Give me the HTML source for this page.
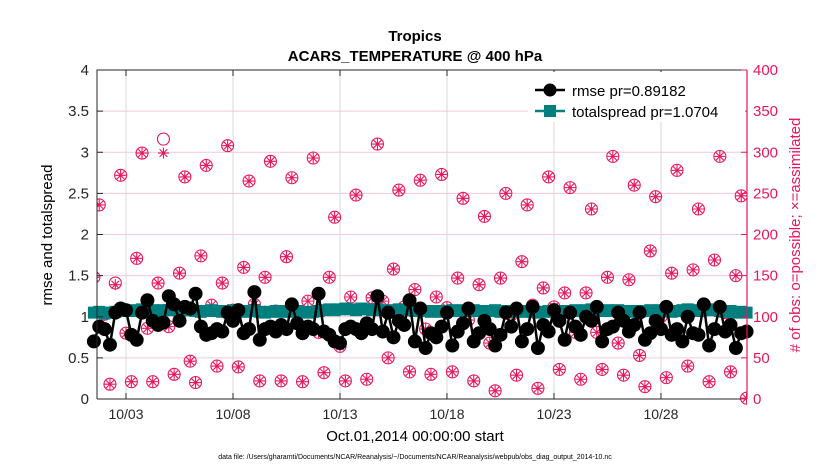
<!DOCTYPE html>
<html><head><meta charset="utf-8"><style>
body{margin:0;background:#fff;}
svg{display:block;font-family:"Liberation Sans",Arial,sans-serif;}
</style></head><body>
<svg id="chart" width="830" height="470" viewBox="0 0 830 470">
<text x="415" y="41" text-anchor="middle" font-size="15" font-weight="bold">Tropics</text>
<text x="415" y="61" text-anchor="middle" font-size="15" font-weight="bold">ACARS_TEMPERATURE @ 400 hPa</text>
<g id="grid"></g>
<g id="marks"></g>
<g id="axes"></g>
<text transform="translate(52,235) rotate(-90)" text-anchor="middle" font-size="15">rmse and totalspread</text>
<text transform="translate(800,235) rotate(-90)" text-anchor="middle" font-size="15" fill="#e8175d"># of obs: o=possible; ×=assimilated</text>
<text x="415" y="441" text-anchor="middle" font-size="15">Oct.01,2014 00:00:00 start</text>
<text x="415" y="459" text-anchor="middle" font-size="7">data file: /Users/gharamti/Documents/NCAR/Reanalysis/~/Documents/NCAR/Reanalysis/webpub/obs_diag_output_2014-10.nc</text>
<g id="legend">
<rect x="528" y="72" width="217" height="50" fill="#fff"/>
<g>
<line x1="535" y1="90" x2="565" y2="90" stroke="#000" stroke-width="2.5"/>
<circle cx="550" cy="90" r="6.5" fill="#000"/>
<text x="572" y="96" font-size="15">rmse pr=0.89182</text></g>
<g>
<line x1="535" y1="111" x2="565" y2="111" stroke="#007f7f" stroke-width="2.5"/>
<rect x="544" y="105" width="12" height="12" fill="#007f7f"/>
<text x="572" y="117" font-size="15">totalspread pr=1.0704</text></g>
</g>
</svg>
<script>
const possible=[148,236,103,18,141,272,80,21,171,299,86,21,141,316,88,30,153,270,46,20,174,284,114,40,141,308,108,39,160,265,115,22,148,289,107,22,173,269,106,21,119,293,81,32,148,221,64,22,124,248,80,24,123,310,119,50,158,254,112,33,133,266,85,30,124,273,111,33,147,244,96,22,139,222,68,10,147,250,102,29,167,236,114,13,135,270,112,36,129,257,81,24,129,231,81,36,148,295,68,29,145,260,53,15,180,246,100,26,153,278,107,40,157,231,113,21,169,295,105,33,150,247,1];
const assimilated=[148,236,103,18,139,272,80,21,171,299,86,21,141,299,88,30,153,270,46,20,174,284,114,40,141,308,108,39,160,265,115,22,148,289,107,22,173,269,106,21,119,293,81,32,148,221,64,22,124,248,80,24,123,310,119,50,158,254,112,33,133,266,85,30,124,273,111,33,147,244,96,22,139,222,68,10,147,250,102,29,167,236,114,13,135,270,112,36,129,257,81,24,129,231,81,36,148,295,68,29,145,260,53,15,180,246,100,26,153,278,107,40,157,231,113,21,169,295,105,33,150,247,1];
const rmse=[0.70,0.88,0.85,0.66,1.05,1.10,1.08,0.78,0.72,1.05,1.20,0.95,0.90,0.93,1.25,1.15,0.95,1.12,1.10,1.28,0.88,0.78,0.80,0.85,0.82,1.05,0.95,1.08,0.80,0.85,1.30,0.72,0.85,0.88,0.82,0.90,0.85,1.15,0.92,0.80,0.88,0.85,1.28,0.82,0.78,0.70,0.68,0.85,0.88,0.85,0.80,0.92,0.85,1.25,0.82,1.05,0.75,0.95,0.90,1.20,0.70,1.10,0.62,0.80,0.75,0.88,1.05,0.65,0.82,0.92,1.10,0.70,0.80,0.95,0.85,0.65,0.78,1.05,0.88,1.10,0.70,0.85,1.12,0.62,0.90,0.82,1.08,0.95,0.72,1.05,0.88,0.78,1.00,0.95,1.12,0.70,0.85,0.88,1.05,0.95,0.82,0.90,1.05,0.72,0.80,0.95,0.85,1.12,0.78,0.85,0.70,1.00,0.80,0.78,1.15,0.65,0.85,1.12,0.82,0.90,0.62,0.80,0.82];
const spread=[1.05,1.06,1.04,1.05,1.06,1.08,1.07,1.08,1.07,1.09,1.08,1.08,1.07,1.08,1.08,1.09,1.07,1.08,1.08,1.07,1.06,1.07,1.08,1.07,1.06,1.07,1.08,1.07,1.06,1.07,1.08,1.06,1.05,1.06,1.07,1.06,1.07,1.06,1.07,1.06,1.05,1.06,1.07,1.08,1.09,1.08,1.09,1.10,1.09,1.08,1.10,1.09,1.08,1.09,1.08,1.07,1.08,1.09,1.08,1.09,1.07,1.08,1.07,1.06,1.07,1.06,1.07,1.08,1.07,1.08,1.07,1.08,1.07,1.06,1.07,1.08,1.06,1.07,1.06,1.07,1.06,1.07,1.06,1.05,1.06,1.07,1.06,1.07,1.06,1.07,1.08,1.07,1.08,1.09,1.08,1.07,1.08,1.07,1.08,1.07,1.06,1.07,1.06,1.07,1.08,1.07,1.08,1.07,1.06,1.07,1.08,1.09,1.08,1.07,1.08,1.09,1.08,1.07,1.06,1.07,1.05,1.06,1.05];
const leftTicks=["0","0.5","1","1.5","2","2.5","3","3.5","4"];
const rightTicks=["0","50","100","150","200","250","300","350","400"];
const dateLabels=["10/03","10/08","10/13","10/18","10/23","10/28"];
const dateDays=[2,7,12,17,22,27];

const NS="http://www.w3.org/2000/svg";
const L=97,R=747,T=70,B=399;
const DMIN=0.645,DMAX=31.02;
const xs=d=>L+(d-DMIN)/(DMAX-DMIN)*(R-L);
const yl=v=>B-v/4*(B-T);
const yr=v=>B-v/400*(B-T);
const obsDay=i=>0.5+0.25*i;
function mk(tag,attrs,parent){const e=document.createElementNS(NS,tag);for(const k in attrs)e.setAttribute(k,attrs[k]);parent.appendChild(e);return e;}
const grid=document.getElementById('grid'),marks=document.getElementById('marks'),axes=document.getElementById('axes');
rightTicks.forEach((t,i)=>{const y=yr(+t);
 const g=mk('line',{x1:L,x2:R,y1:y,y2:y,stroke:'#f3c9d8','stroke-width':1},grid);
 
 });
dateDays.forEach(d=>{const x=xs(d);
 const g=mk('line',{x1:x,x2:x,y1:T,y2:B,stroke:'#d8d8d8','stroke-width':1},grid);
 
 });
const defs=mk('defs',{},marks);const cp=mk('clipPath',{id:'pc'},defs);mk('rect',{x:L,y:T-8,width:R-L,height:B-T+16},cp);
const og=mk('g',{'clip-path':'url(#pc)'},marks);


const PK='#e8175d';
possible.forEach((v,i)=>{const x=xs(obsDay(i)),y=yr(v);
 const c=mk('circle',{cx:x,cy:y,r:6,fill:'none',stroke:PK,'stroke-width':1.1},og);
 
 });
assimilated.forEach((v,i)=>{const x=xs(obsDay(i)),y=yr(v);const s=5.5;
 const p=mk('path',{d:`M${x-s} ${y}H${x+s}M${x} ${y-s}V${y+s}M${x-s*0.7} ${y-s*0.7}L${x+s*0.7} ${y+s*0.7}M${x-s*0.7} ${y+s*0.7}L${x+s*0.7} ${y-s*0.7}`,stroke:PK,'stroke-width':1.1,fill:'none'},og);
 
 });
const sg=mk('g',{},marks);


const sl=mk('polyline',{points:spread.map((v,i)=>xs(obsDay(i))+','+yl(v)).join(' '),fill:'none',stroke:'#007f7f','stroke-width':2.5},sg);


spread.forEach((v,i)=>{const x=xs(obsDay(i)),y=yl(v);
 const r=mk('rect',{x:x-6,y:y-6,width:12,height:12,fill:'#007f7f'},sg);
 
 });
const rg=mk('g',{},marks);


const rl=mk('polyline',{points:rmse.map((v,i)=>xs(obsDay(i))+','+yl(v)).join(' '),fill:'none',stroke:'#000','stroke-width':2.5},rg);


rmse.forEach((v,i)=>{const x=xs(obsDay(i)),y=yl(v);
 const c=mk('circle',{cx:x,cy:y,r:7,fill:'#000'},rg);
 
 });
const fr=mk('path',{d:`M${L} ${B}V${T}H${R}M${L} ${B}H${R}`,stroke:'#262626','stroke-width':1,fill:'none'},axes);


const ra=mk('line',{x1:R,x2:R,y1:T,y2:B,stroke:PK,'stroke-width':1.2},axes);


leftTicks.forEach(t=>{const y=yl(+t);
 mk('line',{x1:L,x2:L+6,y1:y,y2:y,stroke:'#262626'},axes);
 const tx=mk('text',{x:L-8,y:y+5,'text-anchor':'end','font-size':15,fill:'#262626'},axes);tx.textContent=t;
 
 });
rightTicks.forEach(t=>{const y=yr(+t);
 mk('line',{x1:R-6,x2:R,y1:y,y2:y,stroke:PK},axes);
 const tx=mk('text',{x:R+6,y:y+5,'font-size':15,fill:PK},axes);tx.textContent=t;
 
 });
dateLabels.forEach((t,i)=>{const x=xs(dateDays[i]);
 mk('line',{x1:x,x2:x,y1:B,y2:B-6,stroke:'#262626'},axes);
 mk('line',{x1:x,x2:x,y1:T,y2:T+6,stroke:'#262626'},axes);
 const tx=mk('text',{x:x,y:B+20,'text-anchor':'middle','font-size':14,fill:'#262626'},axes);tx.textContent=t;
 
 });
</script>
</body></html>
